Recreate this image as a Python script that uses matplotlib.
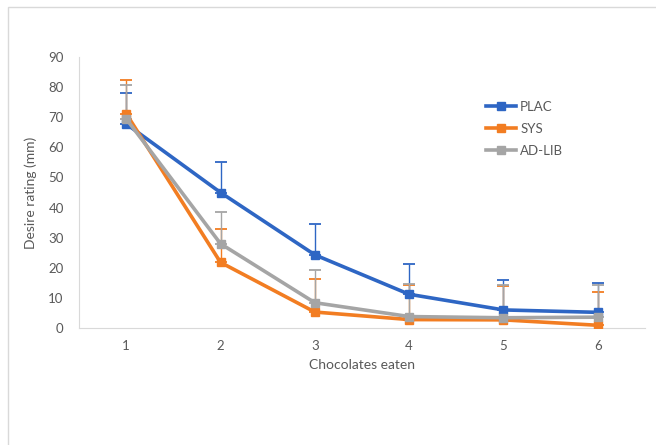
import matplotlib
matplotlib.use("Agg")
import matplotlib.pyplot as plt
from matplotlib.patches import Rectangle

x = [1, 2, 3, 4, 5, 6]
series = ["PLAC", "SYS", "AD-LIB"]
plac = [67.8, 45.0, 24.3, 11.2, 6.0, 5.2]
sys_ = [71.2, 21.8, 5.3, 2.8, 2.7, 0.9]
adlib = [69.5, 28.0, 8.4, 3.8, 3.4, 3.6]
plac_top = [78.0, 55.2, 34.5, 21.4, 16.1, 14.9]
sys_top = [82.2, 32.9, 16.3, 14.3, 14.1, 11.9]
adlib_top = [80.7, 38.6, 19.3, 14.7, 14.2, 14.4]

colors = ["#2E66C4", "#F27D22", "#A5A5A5"]

plt.rcParams['font.family'] = ['Lato', 'DejaVu Sans']
fig = plt.figure(figsize=(6.56, 4.45), dpi=100)
ax = fig.add_axes([79/656, 117/445, 566/656, 271/445])

# outer chart frame
fig.patches.append(Rectangle((8/656, -0.2), 2, (445-7)/445 + 0.2, transform=fig.transFigure,
                             fill=False, edgecolor="#D9D9D9", linewidth=1.0))

vals = [plac, sys_, adlib]
tops = [plac_top, sys_top, adlib_top]
for i, (name, v, t, c) in enumerate(zip(series, vals, tops, colors)):
    up = [tt - vv for tt, vv in zip(t, v)]
    ax.errorbar(x, v, yerr=[[0]*len(v), up], fmt='none', ecolor=c, elinewidth=1.0,
                capsize=4, capthick=1.3, zorder=2 + i * 0.1)
for i, (name, v, c) in enumerate(zip(series, vals, colors)):
    ax.plot(x, v, color=c, lw=2.6, marker='s', markersize=6, label=name, zorder=3 + i)

ax.set_xlim(0.5, 6.5)
ax.set_ylim(0, 90)
ax.set_yticks(range(0, 91, 10))
ax.set_xticks(x)
for s in ["top", "right"]:
    ax.spines[s].set_visible(False)
ax.spines["left"].set_color("#D9D9D9")
ax.spines["bottom"].set_color("#D9D9D9")
ax.tick_params(length=0, labelsize=9.5, labelcolor="#595959", pad=11)
ax.tick_params(axis='x', pad=9)
ax.set_xlabel("Chocolates eaten", fontsize=10, color="#595959", labelpad=5)
ax.set_ylabel("Desire rating (mm)", fontsize=10, color="#595959", labelpad=8)

leg = ax.legend(loc='upper left', bbox_to_anchor=((474-79)/566, (328-89)/271), frameon=False,
                fontsize=9.5, labelcolor="#595959", handlelength=2.3, labelspacing=0.75,
                handletextpad=0.3)

fig.savefig("out.png", dpi=100)
